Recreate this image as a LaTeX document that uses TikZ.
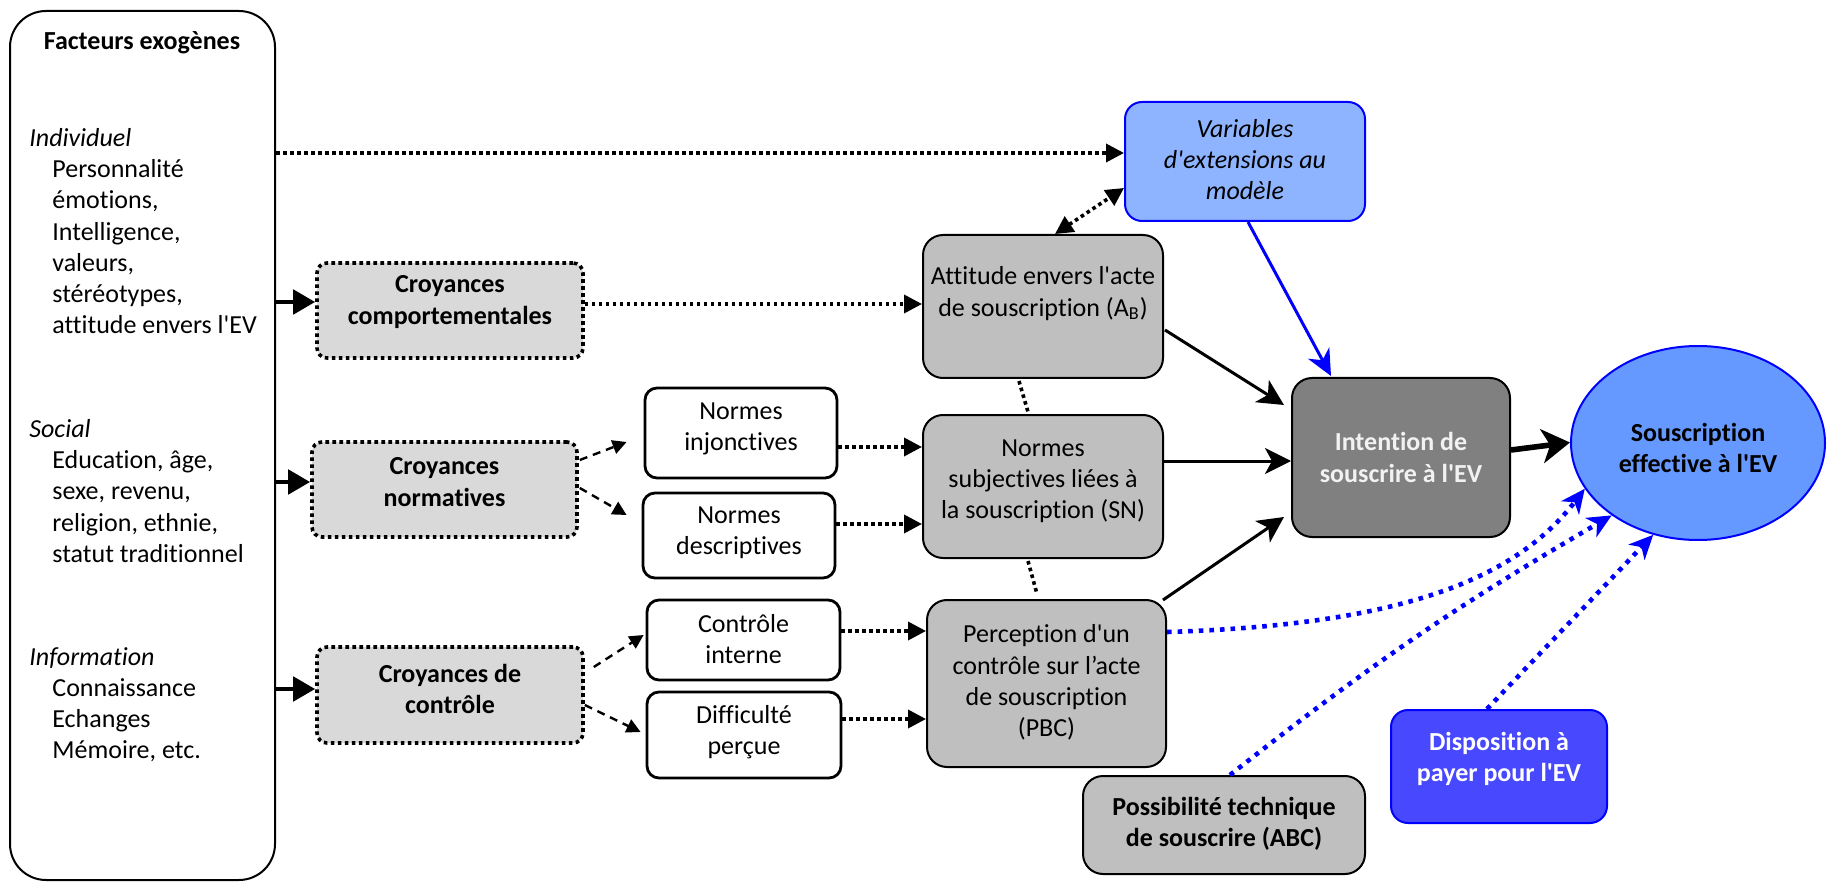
\documentclass[tikz,border=0pt]{standalone}
\usepackage{fontspec}
\setmainfont{Carlito}[Ligatures={NoCommon}]
\usetikzlibrary{arrows.meta,calc,shapes.geometric}
\newcommand{\ap}{\textquotesingle}
\definecolor{croyfill}{HTML}{D9D9D9}
\definecolor{grayfill}{HTML}{BFBFBF}
\definecolor{intfill}{HTML}{808080}
\definecolor{varfill}{HTML}{8EB4FF}
\definecolor{ellfill}{HTML}{6699FF}
\definecolor{dispfill}{HTML}{4848FF}
\definecolor{bl}{HTML}{0000FF}
\definecolor{inttext}{HTML}{F2F2F2}
\begin{document}
\begin{tikzpicture}[x=0.5pt,y=-0.5pt,
  every node/.style={font=\fontsize{13}{15.6}\selectfont},
  txt/.style={inner sep=0pt, align=center},
  bf/.style={font=\fontsize{13}{15.6}\selectfont\bfseries},
  bigbox/.style={draw, line width=1pt, rounded corners=18pt, inner sep=0pt},
  croy/.style={draw, fill=croyfill, line width=1.8pt, dash pattern=on 1.8pt off 1.7pt, rounded corners=5pt, inner sep=0pt},
  wbox/.style={draw, fill=white, line width=1.4pt, rounded corners=6pt, inner sep=0pt},
  gbox/.style={draw, fill=grayfill, line width=1pt, rounded corners=10pt, inner sep=0pt},
  ibox/.style={draw, fill=intfill, line width=1pt, rounded corners=10pt, inner sep=0pt},
  vbox/.style={draw=bl, fill=varfill, line width=1pt, rounded corners=8.5pt, inner sep=0pt},
  dbox/.style={draw=bl, fill=dispfill, line width=1pt, rounded corners=8.5pt, inner sep=0pt},
  ellnode/.style={draw=bl, fill=ellfill, line width=1pt, ellipse, inner sep=0pt},
  dotarr/.style={line width=1.8pt, dash pattern=on 1.8pt off 1.7pt, -{Triangle[length=9pt,width=9pt]}},
  ddarr/.style={line width=1.8pt, dash pattern=on 1.8pt off 1.7pt, {Triangle[length=9pt,width=9pt]}-{Triangle[length=9pt,width=9pt]}},
  dotline/.style={line width=1.8pt, dash pattern=on 1.8pt off 1.7pt},
  thickarr/.style={line width=2.4pt, -{Triangle[length=11pt,width=12pt]}},
  solarr/.style={line width=1.5pt, -{Stealth[length=13pt,width=13pt,inset=3.5pt]}},
  bigarr/.style={line width=2.8pt, -{Stealth[length=14pt,width=17pt,inset=4pt]}},
  bluearr/.style={draw=bl, line width=1.5pt, -{Stealth[length=13pt,width=12pt,inset=4pt]}},
  bdot/.style={draw=bl, line width=2.3pt, dash pattern=on 2.3pt off 3pt, -{Stealth[length=12pt,width=11pt,inset=3.5pt]}},
  dasharr/.style={line width=1.2pt, dash pattern=on 4pt off 3pt, -{Triangle[length=7pt,width=7pt]}}
]
\useasboundingbox (0,0) rectangle (1827,882);

% left box
\node[bigbox, minimum width=132.5pt, minimum height=434.5pt] (fx) at (142.5,445.5) {};
\node[txt, bf] (fxT) at (142,43) {Facteurs exogènes};
\node[txt, anchor=north west, align=left] (g1) at (29,128) {\textit{Individuel}\\\hspace*{11.5pt}Personnalité\\\hspace*{11.5pt}émotions,\\\hspace*{11.5pt}Intelligence,\\\hspace*{11.5pt}valeurs,\\\hspace*{11.5pt}stéréotypes,\\\hspace*{11.5pt}attitude envers l\ap EV};
\node[txt, anchor=north west, align=left] (g2) at (29,419) {\textit{Social}\\\hspace*{11.5pt}Education, âge,\\\hspace*{11.5pt}sexe, revenu,\\\hspace*{11.5pt}religion, ethnie,\\\hspace*{11.5pt}statut traditionnel};
\node[txt, anchor=north west, align=left] (g3) at (29,647) {\textit{Information}\\\hspace*{11.5pt}Connaissance\\\hspace*{11.5pt}Echanges\\\hspace*{11.5pt}Mémoire, etc.};

% croyances
\node[croy, minimum width=133pt, minimum height=47.5pt] (cc) at (450,310.5) {};
\node[txt, bf] (ccT) at (450,302) {Croyances\\comportementales};
\node[croy, minimum width=132.5pt, minimum height=47.5pt] (cn) at (444.5,489.5) {};
\node[txt, bf] (cnT) at (444.5,482) {Croyances\\normatives};
\node[croy, minimum width=133pt, minimum height=48pt] (cco) at (450,695) {};
\node[txt, bf] (ccoT) at (450,689) {Croyances de\\contrôle};

% white boxes
\node[wbox, minimum width=96pt, minimum height=45pt] (ni) at (741,433) {};
\node[txt] (niT) at (741,429) {Normes\\injonctives};
\node[wbox, minimum width=96pt, minimum height=42.5pt] (nd) at (739,535.5) {};
\node[txt] (ndT) at (739,532.5) {Normes\\descriptives};
\node[wbox, minimum width=96.5pt, minimum height=40pt] (ci) at (743.5,640) {};
\node[txt] (ciT) at (743.5,639) {Contrôle\\interne};
\node[wbox, minimum width=97pt, minimum height=43pt] (dp) at (744,735) {};
\node[txt] (dpT) at (744,732.5) {Difficulté\\perçue};

% gray boxes
\node[gbox, minimum width=120pt, minimum height=71.5pt] (att) at (1043,306.5) {};
\node[txt] (attT) at (1043,293.5) {Attitude envers l\ap acte\\de souscription (A\textsubscript{B})};
\node[gbox, minimum width=120pt, minimum height=71.5pt] (sn) at (1043,486.5) {};
\node[txt] (snT) at (1043,481.5) {Normes\\subjectives liées à\\la souscription (SN)};
\node[gbox, minimum width=119.5pt, minimum height=83.5pt] (pbc) at (1046.5,683.5) {};
\node[txt] (pbcT) at (1046.5,682.5) {Perception d\ap un\\contrôle sur l’acte\\de souscription\\(PBC)};
\node[gbox, minimum width=141pt, minimum height=49pt] (poss) at (1224,825) {};
\node[txt, bf] (possT) at (1224,824) {Possibilité technique\\de souscrire (ABC)};

% right side
\node[vbox, minimum width=120pt, minimum height=59.5pt] (var) at (1245,161.5) {};
\node[txt, font=\fontsize{13}{15.6}\selectfont\itshape] (varT) at (1245,159.5) {Variables\\d\ap extensions au\\modèle};
\node[ibox, minimum width=109pt, minimum height=79.5pt] (int) at (1401,457.5) {};
\node[txt, bf, text=inttext] (intT) at (1401,457.5) {Intention de\\souscrire à l\ap EV};
\node[ellnode, minimum width=127pt, minimum height=97pt] (ell) at (1698,443) {};
\node[txt, bf] (ellT) at (1698,448) {Souscription\\effective à l\ap EV};
\node[dbox, minimum width=108pt, minimum height=56.5pt] (disp) at (1499,766.5) {};
\node[txt, bf, text=white] (dispT) at (1499,759) {Disposition à\\payer pour l\ap EV};

% connectors from exogenous box
\draw[dotarr] ($(fx.east |- var.west)+(0,-8.5)$) -- ($(var.west)+(0,-8.5)$);
\draw[thickarr] (fx.east |- ccT) -- (cc.west |- ccT);
\draw[thickarr] (fx.east |- cnT) -- (cn.west |- cnT);
\draw[thickarr] (fx.east |- ccoT) -- (cco.west |- ccoT);

% croyances outputs
\draw[dotarr] ($(cc.east)+(0,-6.5)$) -- ($(att.west)+(0,-2.5)$);
\draw[dasharr] ($(cn.east)+(1,-29.5)$) -- ($(ni.west)+(-17,9)$);
\draw[dasharr] ($(cn.east)+(1,-1.5)$) -- ($(nd.west)+(-15,-20.5)$);
\draw[dasharr] ($(cco.east)+(9,-28)$) -- ($(ci.west)+(-2,-5)$);
\draw[dasharr] ($(cco.east)+(0,10)$) -- ($(dp.west)+(-5,-3)$);

% white boxes to gray boxes
\draw[dotarr] ($(ni.east)+(0,14)$) -- ($(sn.west)+(0,-39.5)$);
\draw[dotarr] ($(nd.east)+(0,-11.5)$) -- ($(sn.west)+(0,37.5)$);
\draw[dotarr] ($(ci.east)+(0,-9)$) -- ($(pbc.west)+(0,-52.5)$);
\draw[dotarr] ($(dp.east)+(0,-16)$) -- ($(pbc.west)+(0,35.5)$);

% links between gray boxes
\draw[dotline] ($(att.south)+(-24,2)$) -- ($(sn.north)+(-15,-2)$);
\draw[dotline] ($(sn.south)+(-15,2)$) -- ($(pbc.north)+(-9.5,-5)$);
\draw[ddarr] ($(att.north)+(12,0)$) -- ($(var.west)+(0,26.5)$);

% into intention
\draw[solarr] ($(att.east)+(1,23.5)$) -- ($(int.west)+(-7,-52.5)$);
\draw[solarr] ($(sn.east)+(0,-25.5)$) -- ($(int.west)+(0,3.5)$);
\draw[solarr] ($(pbc.east)+(-4,-83.5)$) -- ($(int.west)+(-7,59.5)$);
\draw[bluearr] ($(var.south)+(3,0)$) -- ($(int.north)+(-70,-1)$);
\draw[bigarr] ($(int.east)+(0,-7.5)$) -- ($(ell.west)+(0,-0.5)$);

% blue dotted into souscription
\draw[bdot] ($(pbc.east)+(0,-51.5)$) .. controls (1400,625) and (1515,580) .. (ell.202);
\draw[bdot] ($(poss.north)+(6,0)$) to[bend left=4] (ell.220);
\draw[bdot] ($(disp.north)+(-12,0)$) -- (ell.244);
\end{tikzpicture}
\end{document}
